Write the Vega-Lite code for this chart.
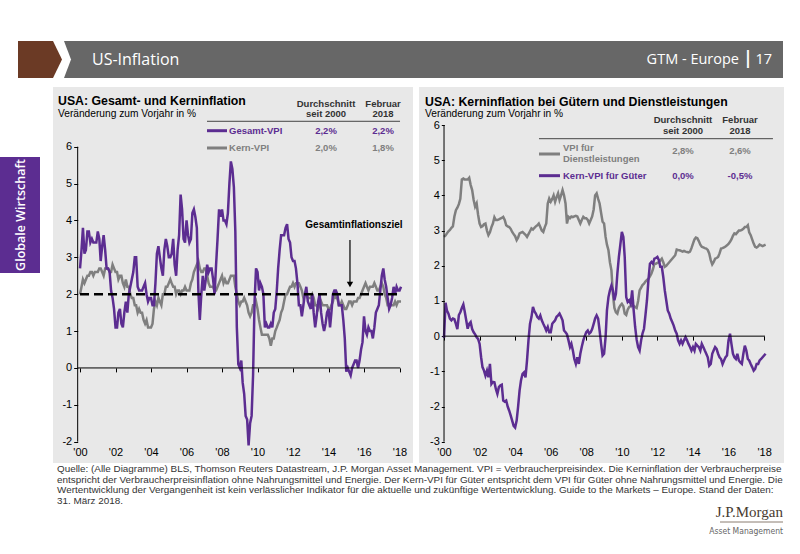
{
"$schema": "https://vega.github.io/schema/vega-lite/v6.json",
"background": "white",
"padding": {"left": 0, "top": 41, "right": 0, "bottom": 0},
"spacing": 9,
"config": {"view": {"stroke": null}, "font": "Liberation Sans", "axis": {"labelFont": "Liberation Sans", "labelFontSize": 11, "labelColor": "#000", "tickColor": "#000", "grid": false, "domain": false, "labelFlush": false, "labelOverlap": false, "title": null}, "axisX": {"labelOverlap": false, "labelSeparation": 0}},
"datasets": {"cpi": [
{"d":"2000-01","h":2.7,"c":2.0,"s":2.82,"g":-0.05},{"d":"2000-02","h":3.2,"c":2.2,"s":2.86,"g":0.95},{"d":"2000-03","h":3.8,"c":2.4,"s":2.92,"g":0.73},{"d":"2000-04","h":3.1,"c":2.3,"s":2.98,"g":0.64},{"d":"2000-05","h":3.2,"c":2.4,"s":3.02,"g":0.5},{"d":"2000-06","h":3.7,"c":2.5,"s":3.08,"g":0.45},{"d":"2000-07","h":3.7,"c":2.5,"s":3.12,"g":0.5},{"d":"2000-08","h":3.4,"c":2.6,"s":3.4,"g":0.48},{"d":"2000-09","h":3.5,"c":2.6,"s":3.58,"g":0.35},{"d":"2000-10","h":3.4,"c":2.5,"s":3.65,"g":0.2},{"d":"2000-11","h":3.4,"c":2.6,"s":3.75,"g":0.6},{"d":"2000-12","h":3.4,"c":2.6,"s":3.9,"g":0.68},
{"d":"2001-01","h":3.7,"c":2.6,"s":4.45,"g":0.8},{"d":"2001-02","h":3.5,"c":2.7,"s":4.48,"g":0.9},{"d":"2001-03","h":2.9,"c":2.7,"s":4.45,"g":0.7},{"d":"2001-04","h":3.3,"c":2.6,"s":4.45,"g":0.45},{"d":"2001-05","h":3.6,"c":2.5,"s":4.45,"g":0.21},{"d":"2001-06","h":3.2,"c":2.7,"s":4.5,"g":0.35},{"d":"2001-07","h":2.7,"c":2.7,"s":4.3,"g":0.4},{"d":"2001-08","h":2.7,"c":2.7,"s":4.15,"g":0.2},{"d":"2001-09","h":2.6,"c":2.6,"s":3.87,"g":0.11},{"d":"2001-10","h":2.1,"c":2.6,"s":3.68,"g":0.05},{"d":"2001-11","h":1.9,"c":2.8,"s":3.77,"g":-0.03},{"d":"2001-12","h":1.6,"c":2.7,"s":3.45,"g":-0.08},
{"d":"2002-01","h":1.1,"c":2.6,"s":3.2,"g":-0.22},{"d":"2002-02","h":1.1,"c":2.6,"s":3.1,"g":-0.6},{"d":"2002-03","h":1.5,"c":2.4,"s":3.12,"g":-0.88},{"d":"2002-04","h":1.6,"c":2.5,"s":3.18,"g":-0.98},{"d":"2002-05","h":1.2,"c":2.5,"s":3.2,"g":-1.12},{"d":"2002-06","h":1.1,"c":2.3,"s":3.0,"g":-0.98},{"d":"2002-07","h":1.5,"c":2.2,"s":2.87,"g":-1.17},{"d":"2002-08","h":1.8,"c":2.4,"s":2.95,"g":-0.79},{"d":"2002-09","h":1.5,"c":2.2,"s":3.1,"g":-1.36},{"d":"2002-10","h":2.0,"c":2.2,"s":3.2,"g":-1.3},{"d":"2002-11","h":2.2,"c":2.0,"s":3.38,"g":-1.31},{"d":"2002-12","h":2.4,"c":1.9,"s":3.3,"g":-1.5},
{"d":"2003-01","h":2.6,"c":1.9,"s":3.3,"g":-1.64},{"d":"2003-02","h":3.0,"c":1.7,"s":3.32,"g":-1.45},{"d":"2003-03","h":3.0,"c":1.7,"s":3.34,"g":-1.4},{"d":"2003-04","h":2.2,"c":1.5,"s":3.36,"g":-1.38},{"d":"2003-05","h":2.1,"c":1.6,"s":3.39,"g":-1.83},{"d":"2003-06","h":2.1,"c":1.5,"s":3.3,"g":-1.86},{"d":"2003-07","h":2.1,"c":1.5,"s":3.15,"g":-1.83},{"d":"2003-08","h":2.2,"c":1.3,"s":3.12,"g":-2.0},{"d":"2003-09","h":2.3,"c":1.2,"s":3.1,"g":-2.12},{"d":"2003-10","h":2.0,"c":1.3,"s":3.05,"g":-2.25},{"d":"2003-11","h":1.8,"c":1.1,"s":2.96,"g":-2.4},{"d":"2003-12","h":1.9,"c":1.1,"s":2.9,"g":-2.55},
{"d":"2004-01","h":1.9,"c":1.1,"s":2.84,"g":-2.6},{"d":"2004-02","h":1.7,"c":1.2,"s":2.73,"g":-2.4},{"d":"2004-03","h":1.7,"c":1.6,"s":2.8,"g":-2.02},{"d":"2004-04","h":2.3,"c":1.8,"s":2.92,"g":-1.55},{"d":"2004-05","h":3.1,"c":1.7,"s":2.94,"g":-1.25},{"d":"2004-06","h":3.3,"c":1.9,"s":2.96,"g":-1.07},{"d":"2004-07","h":3.0,"c":1.8,"s":2.92,"g":-1.03},{"d":"2004-08","h":2.7,"c":1.7,"s":2.88,"g":-1.17},{"d":"2004-09","h":2.5,"c":2.0,"s":2.82,"g":-0.69},{"d":"2004-10","h":3.2,"c":2.0,"s":2.9,"g":-0.12},{"d":"2004-11","h":3.5,"c":2.2,"s":2.98,"g":0.35},{"d":"2004-12","h":3.3,"c":2.2,"s":3.06,"g":0.54},
{"d":"2005-01","h":3.0,"c":2.3,"s":3.03,"g":0.83},{"d":"2005-02","h":3.0,"c":2.4,"s":3.08,"g":0.7},{"d":"2005-03","h":3.1,"c":2.3,"s":3.12,"g":0.64},{"d":"2005-04","h":3.5,"c":2.2,"s":3.15,"g":0.54},{"d":"2005-05","h":2.8,"c":2.2,"s":3.2,"g":0.5},{"d":"2005-06","h":2.5,"c":2.0,"s":3.1,"g":0.59},{"d":"2005-07","h":3.2,"c":2.1,"s":3.0,"g":0.45},{"d":"2005-08","h":3.6,"c":2.1,"s":2.96,"g":0.35},{"d":"2005-09","h":4.7,"c":2.0,"s":3.1,"g":0.26},{"d":"2005-10","h":4.3,"c":2.1,"s":3.2,"g":0.16},{"d":"2005-11","h":3.5,"c":2.1,"s":3.77,"g":0.26},{"d":"2005-12","h":3.4,"c":2.2,"s":3.91,"g":0.11},
{"d":"2006-01","h":4.0,"c":2.1,"s":3.82,"g":0.11},{"d":"2006-02","h":3.6,"c":2.1,"s":3.9,"g":0.35},{"d":"2006-03","h":3.4,"c":2.1,"s":4.0,"g":0.4},{"d":"2006-04","h":3.5,"c":2.3,"s":3.82,"g":0.45},{"d":"2006-05","h":4.2,"c":2.4,"s":3.95,"g":0.55},{"d":"2006-06","h":4.3,"c":2.6,"s":4.06,"g":0.59},{"d":"2006-07","h":4.1,"c":2.7,"s":3.87,"g":0.64},{"d":"2006-08","h":3.8,"c":2.8,"s":4.0,"g":0.55},{"d":"2006-09","h":2.1,"c":2.9,"s":4.15,"g":0.45},{"d":"2006-10","h":1.3,"c":2.7,"s":4.0,"g":0.16},{"d":"2006-11","h":2.0,"c":2.6,"s":3.77,"g":0.11},{"d":"2006-12","h":2.5,"c":2.6,"s":3.2,"g":0.05},
{"d":"2007-01","h":2.1,"c":2.7,"s":3.39,"g":-0.12},{"d":"2007-02","h":2.4,"c":2.7,"s":3.35,"g":-0.31},{"d":"2007-03","h":2.8,"c":2.5,"s":3.4,"g":-0.22},{"d":"2007-04","h":2.6,"c":2.3,"s":3.38,"g":-0.41},{"d":"2007-05","h":2.7,"c":2.2,"s":3.4,"g":-0.65},{"d":"2007-06","h":2.7,"c":2.2,"s":3.42,"g":-0.79},{"d":"2007-07","h":2.4,"c":2.2,"s":3.4,"g":-0.6},{"d":"2007-08","h":2.0,"c":2.1,"s":3.3,"g":-0.79},{"d":"2007-09","h":2.8,"c":2.1,"s":3.2,"g":-0.5},{"d":"2007-10","h":3.5,"c":2.2,"s":3.3,"g":-0.3},{"d":"2007-11","h":4.3,"c":2.3,"s":3.39,"g":-0.12},{"d":"2007-12","h":4.1,"c":2.4,"s":3.35,"g":0.0},
{"d":"2008-01","h":4.3,"c":2.5,"s":3.35,"g":0.11},{"d":"2008-02","h":4.0,"c":2.3,"s":3.3,"g":0.16},{"d":"2008-03","h":4.0,"c":2.4,"s":3.2,"g":0.07},{"d":"2008-04","h":3.9,"c":2.3,"s":3.3,"g":0.11},{"d":"2008-05","h":4.2,"c":2.3,"s":3.4,"g":0.2},{"d":"2008-06","h":5.0,"c":2.4,"s":3.6,"g":0.35},{"d":"2008-07","h":5.6,"c":2.5,"s":4.0,"g":0.5},{"d":"2008-08","h":5.4,"c":2.5,"s":4.06,"g":0.59},{"d":"2008-09","h":4.9,"c":2.5,"s":3.9,"g":0.5},{"d":"2008-10","h":3.7,"c":2.2,"s":3.77,"g":0.16},{"d":"2008-11","h":1.1,"c":2.0,"s":3.5,"g":-0.22},{"d":"2008-12","h":0.1,"c":1.8,"s":3.25,"g":-0.55},
{"d":"2009-01","h":0.0,"c":1.7,"s":3.2,"g":-0.5},{"d":"2009-02","h":0.2,"c":1.8,"s":2.82,"g":-0.03},{"d":"2009-03","h":-0.4,"c":1.8,"s":2.6,"g":0.73},{"d":"2009-04","h":-0.7,"c":1.9,"s":2.44,"g":1.11},{"d":"2009-05","h":-1.3,"c":1.8,"s":2.1,"g":1.3},{"d":"2009-06","h":-1.4,"c":1.7,"s":1.87,"g":1.44},{"d":"2009-07","h":-2.1,"c":1.5,"s":1.2,"g":1.3},{"d":"2009-08","h":-1.5,"c":1.4,"s":0.8,"g":1.02},{"d":"2009-09","h":-1.3,"c":1.5,"s":0.68,"g":1.2},{"d":"2009-10","h":-0.2,"c":1.7,"s":0.64,"g":1.78},{"d":"2009-11","h":1.8,"c":1.7,"s":0.8,"g":2.25},{"d":"2009-12","h":2.7,"c":1.8,"s":0.87,"g":2.6},
{"d":"2010-01","h":2.6,"c":1.6,"s":0.92,"g":2.96},{"d":"2010-02","h":2.1,"c":1.3,"s":0.85,"g":2.82},{"d":"2010-03","h":2.3,"c":1.1,"s":0.64,"g":2.25},{"d":"2010-04","h":2.2,"c":0.9,"s":0.6,"g":1.11},{"d":"2010-05","h":2.0,"c":0.9,"s":0.75,"g":0.97},{"d":"2010-06","h":1.1,"c":0.9,"s":0.83,"g":1.02},{"d":"2010-07","h":1.2,"c":0.9,"s":0.85,"g":0.92},{"d":"2010-08","h":1.1,"c":0.9,"s":0.87,"g":1.3},{"d":"2010-09","h":1.1,"c":0.8,"s":0.86,"g":0.73},{"d":"2010-10","h":1.2,"c":0.6,"s":0.83,"g":0.26},{"d":"2010-11","h":1.1,"c":0.8,"s":0.8,"g":-0.1},{"d":"2010-12","h":1.5,"c":0.8,"s":1.0,"g":-0.31},
{"d":"2011-01","h":1.6,"c":1.0,"s":1.3,"g":-0.41},{"d":"2011-02","h":2.1,"c":1.1,"s":1.38,"g":-0.12},{"d":"2011-03","h":2.7,"c":1.2,"s":1.45,"g":0.07},{"d":"2011-04","h":3.2,"c":1.3,"s":1.49,"g":0.21},{"d":"2011-05","h":3.6,"c":1.5,"s":1.55,"g":0.6},{"d":"2011-06","h":3.6,"c":1.6,"s":1.6,"g":1.02},{"d":"2011-07","h":3.6,"c":1.8,"s":1.63,"g":1.59},{"d":"2011-08","h":3.8,"c":2.0,"s":1.7,"g":2.06},{"d":"2011-09","h":3.9,"c":2.0,"s":1.78,"g":2.11},{"d":"2011-10","h":3.5,"c":2.1,"s":1.9,"g":2.06},{"d":"2011-11","h":3.4,"c":2.2,"s":2.06,"g":2.2},{"d":"2011-12","h":3.0,"c":2.2,"s":2.06,"g":2.22},
{"d":"2012-01","h":2.9,"c":2.3,"s":2.08,"g":2.25},{"d":"2012-02","h":2.9,"c":2.2,"s":2.1,"g":2.16},{"d":"2012-03","h":2.7,"c":2.3,"s":2.15,"g":1.97},{"d":"2012-04","h":2.3,"c":2.3,"s":2.2,"g":1.97},{"d":"2012-05","h":1.7,"c":2.3,"s":2.1,"g":1.68},{"d":"2012-06","h":1.7,"c":2.2,"s":1.97,"g":1.3},{"d":"2012-07","h":1.4,"c":2.1,"s":2.0,"g":1.02},{"d":"2012-08","h":1.7,"c":1.9,"s":2.05,"g":0.73},{"d":"2012-09","h":2.0,"c":2.0,"s":2.1,"g":0.64},{"d":"2012-10","h":2.2,"c":2.0,"s":2.15,"g":0.5},{"d":"2012-11","h":1.8,"c":1.9,"s":2.2,"g":0.4},{"d":"2012-12","h":1.7,"c":1.9,"s":2.25,"g":0.3},
{"d":"2013-01","h":1.6,"c":1.9,"s":2.3,"g":0.16},{"d":"2013-02","h":2.0,"c":2.0,"s":2.46,"g":0.07},{"d":"2013-03","h":1.5,"c":1.9,"s":2.45,"g":-0.12},{"d":"2013-04","h":1.1,"c":1.7,"s":2.44,"g":-0.22},{"d":"2013-05","h":1.4,"c":1.7,"s":2.42,"g":-0.12},{"d":"2013-06","h":1.8,"c":1.6,"s":2.4,"g":-0.22},{"d":"2013-07","h":2.0,"c":1.7,"s":2.42,"g":-0.12},{"d":"2013-08","h":1.5,"c":1.8,"s":2.4,"g":-0.03},{"d":"2013-09","h":1.2,"c":1.7,"s":2.39,"g":-0.12},{"d":"2013-10","h":1.0,"c":1.7,"s":2.38,"g":-0.22},{"d":"2013-11","h":1.2,"c":1.7,"s":2.4,"g":-0.31},{"d":"2013-12","h":1.5,"c":1.7,"s":2.5,"g":-0.41},
{"d":"2014-01","h":1.6,"c":1.6,"s":2.63,"g":-0.31},{"d":"2014-02","h":1.1,"c":1.6,"s":2.75,"g":-0.41},{"d":"2014-03","h":1.5,"c":1.7,"s":2.8,"g":-0.22},{"d":"2014-04","h":2.0,"c":1.8,"s":2.78,"g":-0.27},{"d":"2014-05","h":2.1,"c":2.0,"s":2.7,"g":-0.31},{"d":"2014-06","h":2.1,"c":1.9,"s":2.6,"g":-0.41},{"d":"2014-07","h":2.0,"c":1.9,"s":2.54,"g":-0.22},{"d":"2014-08","h":1.7,"c":1.7,"s":2.52,"g":-0.31},{"d":"2014-09","h":1.7,"c":1.7,"s":2.5,"g":-0.41},{"d":"2014-10","h":1.7,"c":1.8,"s":2.49,"g":-0.5},{"d":"2014-11","h":1.3,"c":1.7,"s":2.45,"g":-0.6},{"d":"2014-12","h":0.8,"c":1.6,"s":2.35,"g":-0.84},
{"d":"2015-01","h":-0.1,"c":1.6,"s":2.16,"g":-0.79},{"d":"2015-02","h":0.0,"c":1.7,"s":2.04,"g":-0.5},{"d":"2015-03","h":-0.1,"c":1.8,"s":2.1,"g":-0.41},{"d":"2015-04","h":-0.2,"c":1.8,"s":2.2,"g":-0.31},{"d":"2015-05","h":0.0,"c":1.7,"s":2.22,"g":-0.36},{"d":"2015-06","h":0.1,"c":1.8,"s":2.25,"g":-0.5},{"d":"2015-07","h":0.2,"c":1.8,"s":2.35,"g":-0.6},{"d":"2015-08","h":0.2,"c":1.8,"s":2.49,"g":-0.65},{"d":"2015-09","h":0.0,"c":1.9,"s":2.5,"g":-0.79},{"d":"2015-10","h":0.2,"c":1.9,"s":2.52,"g":-0.69},{"d":"2015-11","h":0.5,"c":2.0,"s":2.55,"g":-0.6},{"d":"2015-12","h":0.7,"c":2.1,"s":2.58,"g":-0.55},
{"d":"2016-01","h":1.4,"c":2.2,"s":2.62,"g":-0.12},{"d":"2016-02","h":1.0,"c":2.3,"s":2.68,"g":0.07},{"d":"2016-03","h":0.9,"c":2.2,"s":2.75,"g":-0.22},{"d":"2016-04","h":1.1,"c":2.1,"s":2.85,"g":-0.5},{"d":"2016-05","h":1.0,"c":2.2,"s":2.92,"g":-0.6},{"d":"2016-06","h":1.0,"c":2.2,"s":2.9,"g":-0.65},{"d":"2016-07","h":0.8,"c":2.2,"s":2.95,"g":-0.5},{"d":"2016-08","h":1.1,"c":2.3,"s":3.0,"g":-0.69},{"d":"2016-09","h":1.5,"c":2.2,"s":3.0,"g":-0.75},{"d":"2016-10","h":1.6,"c":2.1,"s":3.02,"g":-0.79},{"d":"2016-11","h":1.7,"c":2.1,"s":3.05,"g":-0.5},{"d":"2016-12","h":2.1,"c":2.2,"s":3.1,"g":-0.27},
{"d":"2017-01","h":2.5,"c":2.3,"s":3.1,"g":-0.41},{"d":"2017-02","h":2.7,"c":2.2,"s":3.15,"g":-0.65},{"d":"2017-03","h":2.4,"c":2.0,"s":2.95,"g":-0.69},{"d":"2017-04","h":2.2,"c":1.9,"s":2.87,"g":-0.79},{"d":"2017-05","h":1.9,"c":1.7,"s":2.75,"g":-0.88},{"d":"2017-06","h":1.6,"c":1.7,"s":2.63,"g":-0.98},{"d":"2017-07","h":1.7,"c":1.7,"s":2.54,"g":-0.93},{"d":"2017-08","h":1.9,"c":1.7,"s":2.52,"g":-0.79},{"d":"2017-09","h":2.2,"c":1.7,"s":2.55,"g":-0.79},{"d":"2017-10","h":2.0,"c":1.8,"s":2.6,"g":-0.69},{"d":"2017-11","h":2.2,"c":1.7,"s":2.58,"g":-0.65},{"d":"2017-12","h":2.1,"c":1.8,"s":2.56,"g":-0.6},
{"d":"2018-01","h":2.1,"c":1.8,"s":2.58,"g":-0.55},{"d":"2018-02","h":2.2,"c":1.8,"s":2.6,"g":-0.5}
]},
"vconcat": [
{"hconcat": [
  {"width": 18, "height": 37, "data": {"values": [{}]}, "mark": {"type": "text", "text": ""}},
  {"width": 35, "height": 37, "view": {"fill": "#6b3a25", "stroke": null}, "data": {"values": [{}]}, "mark": {"type": "text", "text": ""}},
  {"width": 730, "height": 37, "view": {"fill": "#676767", "stroke": null}, "data": {"values": [{}]},
   "layer": [
    {"mark": {"type": "point", "shape": "M0,-1L0.5946,-1L0.973,0L0.5946,1L0,1Z", "size": 1369, "filled": true, "color": "white", "opacity": 1, "strokeWidth": 0}, "encoding": {"x": {"value": 0}, "y": {"value": 18.5}}},
    {"mark": {"type": "point", "shape": "M0,-1L0.4865,0L0,1Z", "size": 1369, "filled": true, "color": "#6b3a25", "opacity": 1, "strokeWidth": 0}, "encoding": {"x": {"value": 0}, "y": {"value": 18.5}}},
    {"mark": {"type": "text", "text": "US-Inflation", "font": "Open Sans", "fontSize": 16, "color": "white", "align": "left", "baseline": "middle"}, "encoding": {"x": {"value": 39}, "y": {"value": 19}}},
    {"mark": {"type": "text", "text": "GTM - Europe", "font": "Open Sans", "fontSize": 14.5, "color": "white", "align": "right", "baseline": "middle"}, "encoding": {"x": {"value": 686}, "y": {"value": 19}}},
    {"mark": {"type": "text", "text": "|", "font": "Open Sans", "fontSize": 17, "fontWeight": "bold", "color": "white", "align": "center", "baseline": "middle"}, "encoding": {"x": {"value": 695}, "y": {"value": 18}}},
    {"mark": {"type": "text", "text": "17", "font": "Open Sans", "fontSize": 14.5, "color": "white", "align": "right", "baseline": "middle"}, "encoding": {"x": {"value": 719}, "y": {"value": 19}}}
   ]}
 ], "spacing": 0},
{"vconcat": [
 {"hconcat": [
  {"vconcat": [
    {"width": 40, "height": 70, "data": {"values": [{}]}, "mark": {"type": "text", "text": ""}},
    {"width": 40, "height": 116, "view": {"fill": "#5c2d91", "stroke": null}, "data": {"values": [{}]},
     "mark": {"type": "text", "text": "Globale Wirtschaft", "angle": 270, "font": "Open Sans", "fontSize": 12.5, "fontWeight": 600, "color": "white", "align": "center", "baseline": "middle"},
     "encoding": {"x": {"value": 21}, "y": {"value": 58}}}
   ], "spacing": 0},
  {"hconcat": [
   {"width": 360, "height": 376,
    "view": {"fill": "#e8e8e8", "stroke": null},
    "title": {"text": "USA: Gesamt- und Kerninflation", "subtitle": "Veränderung zum Vorjahr in %", "anchor": "start", "frame": "group", "orient": "top", "offset": -32, "dx": 5, "font": "Liberation Sans", "fontSize": 12.3, "fontWeight": "bold", "color": "#000", "subtitleFont": "Liberation Sans", "subtitleFontSize": 10.2, "subtitleColor": "#000", "subtitlePadding": 2},
    "layer": [
     {"data": {"name": "cpi"}, "mark": {"type": "line", "color": "#7f7f7f", "strokeWidth": 2.5},
      "encoding": {
       "x": {"field": "d", "type": "temporal", "scale": {"domain": [{"year": 1998, "month": 6, "date": 24}, {"year": 2018, "month": 10, "date": 5}], "nice": false},
         "axis": {"title": null, "orient": "bottom", "offset": -95.1, "tickCount": {"interval": "year", "step": 2}, "format": "'%y", "tickSize": 4, "labelPadding": 74.4, "labelOverlap": false, "labelSeparation": 0, "labelFlush": false, "labelBound": false}},
       "y": {"field": "c", "type": "quantitative", "scale": {"domain": [-2.578, 7.619], "nice": false, "zero": false}, "axis": {"title": null, "orient": "left", "offset": -24.7, "values": [-2, -1, 0, 1, 2, 3, 4, 5, 6], "tickSize": 4, "labelPadding": 2, "labelOverlap": false, "labelExpr": "replace(datum.label, '\u2212', '-')"}}}},
     {"data": {"name": "cpi"}, "mark": {"type": "line", "color": "#5c2d91", "strokeWidth": 2.5},
      "encoding": {
       "x": {"field": "d", "type": "temporal", "axis": {"title": null, "orient": "bottom", "offset": -95.1, "tickCount": {"interval": "year", "step": 2}, "format": "'%y", "tickSize": 4, "labelPadding": 74.4, "labelOverlap": false, "labelSeparation": 0, "labelFlush": false, "labelBound": false}},
       "y": {"field": "h", "type": "quantitative"}}},
     {"data": {"values": [{}]}, "mark": {"type": "rule", "color": "#000", "strokeWidth": 1}, "encoding": {"x": {"datum": {"year": 1999, "month": 11, "date": 14}, "type": "temporal"}, "y": {"datum": -2, "type": "quantitative"}, "y2": {"datum": 6}}},
     {"data": {"values": [{}]}, "mark": {"type": "rule", "color": "#000", "strokeWidth": 1}, "encoding": {"x": {"datum": {"year": 1999, "month": 11, "date": 14}, "type": "temporal"}, "x2": {"datum": {"year": 2018, "month": 1, "date": 15}}, "y": {"datum": 0, "type": "quantitative"}}},
     {"data": {"values": [{}]}, "mark": {"type": "rule", "color": "#000", "strokeWidth": 2.5, "strokeDash": [9, 5]}, "encoding": {"x": {"datum": {"year": 2000, "month": 1, "date": 1}, "type": "temporal"}, "x2": {"datum": {"year": 2018, "month": 2, "date": 15}}, "y": {"datum": 2, "type": "quantitative"}}},
     {"data": {"values": [{}]}, "mark": {"type": "text", "text": "Gesamtinflationsziel", "fontSize": 10, "fontWeight": "bold", "color": "#000", "align": "center", "baseline": "middle"}, "encoding": {"x": {"datum": {"year": 2015, "month": 6, "date": 8}, "type": "temporal"}, "y": {"datum": 3.877, "type": "quantitative"}}},
     {"data": {"values": [{}]}, "mark": {"type": "rule", "color": "#000", "strokeWidth": 1.2}, "encoding": {"x": {"datum": {"year": 2015, "month": 3, "date": 18}, "type": "temporal"}, "y": {"datum": 3.47, "type": "quantitative"}, "y2": {"datum": 2.3}}},
     {"data": {"values": [{}]}, "mark": {"type": "point", "shape": "triangle-down", "filled": true, "size": 40, "color": "#000", "opacity": 1}, "encoding": {"x": {"datum": {"year": 2015, "month": 3, "date": 18}, "type": "temporal"}, "y": {"datum": 2.26, "type": "quantitative"}}},
     {"data": {"values": [{}]}, "mark": {"type": "text", "text": "Durchschnitt", "fontSize": 9.5, "fontWeight": "bold", "color": "#333", "align": "center", "baseline": "middle"}, "encoding": {"x": {"datum": {"year": 2013, "month": 11, "date": 10}, "type": "temporal"}, "y": {"datum": 7.158, "type": "quantitative"}}},
     {"data": {"values": [{}]}, "mark": {"type": "text", "text": "seit 2000", "fontSize": 9.5, "fontWeight": "bold", "color": "#333", "align": "center", "baseline": "middle"}, "encoding": {"x": {"datum": {"year": 2013, "month": 11, "date": 10}, "type": "temporal"}, "y": {"datum": 6.887, "type": "quantitative"}}},
     {"data": {"values": [{}]}, "mark": {"type": "text", "text": "Februar", "fontSize": 9.5, "fontWeight": "bold", "color": "#333", "align": "center", "baseline": "middle"}, "encoding": {"x": {"datum": {"year": 2017, "month": 1, "date": 26}, "type": "temporal"}, "y": {"datum": 7.158, "type": "quantitative"}}},
     {"data": {"values": [{}]}, "mark": {"type": "text", "text": "2018", "fontSize": 9.5, "fontWeight": "bold", "color": "#333", "align": "center", "baseline": "middle"}, "encoding": {"x": {"datum": {"year": 2017, "month": 1, "date": 26}, "type": "temporal"}, "y": {"datum": 6.887, "type": "quantitative"}}},
     {"data": {"values": [{}]}, "mark": {"type": "rule", "color": "#444", "strokeWidth": 1}, "encoding": {"x": {"datum": {"year": 2007, "month": 2, "date": 26}, "type": "temporal"}, "x2": {"datum": {"year": 2018, "month": 1, "date": 11}}, "y": {"datum": 6.689, "type": "quantitative"}}},
     {"data": {"values": [{}]}, "mark": {"type": "rule", "color": "#5c2d91", "strokeWidth": 3}, "encoding": {"x": {"datum": {"year": 2007, "month": 2, "date": 26}, "type": "temporal"}, "x2": {"datum": {"year": 2008, "month": 4, "date": 13}}, "y": {"datum": 6.434, "type": "quantitative"}}},
     {"data": {"values": [{}]}, "mark": {"type": "rule", "color": "#7f7f7f", "strokeWidth": 3}, "encoding": {"x": {"datum": {"year": 2007, "month": 2, "date": 26}, "type": "temporal"}, "x2": {"datum": {"year": 2008, "month": 4, "date": 13}}, "y": {"datum": 5.965, "type": "quantitative"}}},
     {"data": {"values": [{}]}, "mark": {"type": "text", "text": "Gesamt-VPI", "fontSize": 9.5, "fontWeight": "bold", "color": "#5c2d91", "align": "left", "baseline": "middle"}, "encoding": {"x": {"datum": {"year": 2008, "month": 5, "date": 24}, "type": "temporal"}, "y": {"datum": 6.434, "type": "quantitative"}}},
     {"data": {"values": [{}]}, "mark": {"type": "text", "text": "Kern-VPI", "fontSize": 9.5, "fontWeight": "bold", "color": "#7f7f7f", "align": "left", "baseline": "middle"}, "encoding": {"x": {"datum": {"year": 2008, "month": 5, "date": 24}, "type": "temporal"}, "y": {"datum": 5.965, "type": "quantitative"}}},
     {"data": {"values": [{}]}, "mark": {"type": "text", "text": "2,2%", "fontSize": 9.5, "fontWeight": "bold", "color": "#5c2d91", "align": "center", "baseline": "middle"}, "encoding": {"x": {"datum": {"year": 2013, "month": 11, "date": 10}, "type": "temporal"}, "y": {"datum": 6.434, "type": "quantitative"}}},
     {"data": {"values": [{}]}, "mark": {"type": "text", "text": "2,2%", "fontSize": 9.5, "fontWeight": "bold", "color": "#5c2d91", "align": "center", "baseline": "middle"}, "encoding": {"x": {"datum": {"year": 2017, "month": 1, "date": 26}, "type": "temporal"}, "y": {"datum": 6.434, "type": "quantitative"}}},
     {"data": {"values": [{}]}, "mark": {"type": "text", "text": "2,0%", "fontSize": 9.5, "fontWeight": "bold", "color": "#7f7f7f", "align": "center", "baseline": "middle"}, "encoding": {"x": {"datum": {"year": 2013, "month": 11, "date": 10}, "type": "temporal"}, "y": {"datum": 5.965, "type": "quantitative"}}},
     {"data": {"values": [{}]}, "mark": {"type": "text", "text": "1,8%", "fontSize": 9.5, "fontWeight": "bold", "color": "#7f7f7f", "align": "center", "baseline": "middle"}, "encoding": {"x": {"datum": {"year": 2017, "month": 1, "date": 26}, "type": "temporal"}, "y": {"datum": 5.965, "type": "quantitative"}}}
    ]},
   {"width": 365, "height": 376,
    "view": {"fill": "#e8e8e8", "stroke": null},
    "title": {"text": "USA: Kerninflation bei Gütern und Dienstleistungen", "subtitle": "Veränderung zum Vorjahr in %", "anchor": "start", "frame": "group", "orient": "top", "offset": -32, "dx": 6, "font": "Liberation Sans", "fontSize": 12.3, "fontWeight": "bold", "color": "#000", "subtitleFont": "Liberation Sans", "subtitleFontSize": 10.2, "subtitleColor": "#000", "subtitlePadding": 1},
    "layer": [
     {"data": {"name": "cpi"}, "mark": {"type": "line", "color": "#7f7f7f", "strokeWidth": 2.5},
      "encoding": {
       "x": {"field": "d", "type": "temporal", "scale": {"domain": [{"year": 1998, "month": 8, "date": 5}, {"year": 2019, "month": 2, "date": 14}], "nice": false},
         "axis": {"title": null, "orient": "bottom", "offset": -126.9, "values": [{"year": 2000}, {"year": 2002}, {"year": 2004}, {"year": 2006}, {"year": 2008}, {"year": 2010}, {"year": 2012}, {"year": 2014}, {"year": 2016}, {"year": 2018}], "format": "'%y", "tickSize": 4, "labelPadding": 106.2, "labelOverlap": false, "labelFlush": false, "labelBound": false}},
       "y": {"field": "s", "type": "quantitative", "scale": {"domain": [-3.605, 7.08], "nice": false, "zero": false}, "axis": {"title": null, "orient": "left", "offset": -25.3, "values": [-3, -2, -1, 0, 1, 2, 3, 4, 5, 6], "tickSize": 3, "labelPadding": 2, "labelOverlap": false, "labelExpr": "replace(datum.label, '\u2212', '-')"}}}},
     {"data": {"name": "cpi"}, "mark": {"type": "line", "color": "#5c2d91", "strokeWidth": 2.5},
      "encoding": {
       "x": {"field": "d", "type": "temporal"},
       "y": {"field": "g", "type": "quantitative"}}},
     {"data": {"values": [{}]}, "mark": {"type": "rule", "color": "#000", "strokeWidth": 1}, "encoding": {"x": {"datum": {"year": 2000, "month": 1, "date": 1}, "type": "temporal"}, "y": {"datum": -3, "type": "quantitative"}, "y2": {"datum": 6}}},
     {"data": {"values": [{}]}, "mark": {"type": "rule", "color": "#000", "strokeWidth": 1}, "encoding": {"x": {"datum": {"year": 2000, "month": 1, "date": 1}, "type": "temporal"}, "x2": {"datum": {"year": 2018, "month": 1, "date": 20}}, "y": {"datum": 0, "type": "quantitative"}}},
     {"data": {"values": [{}]}, "mark": {"type": "text", "text": "Durchschnitt", "fontSize": 9.5, "fontWeight": "bold", "color": "#333", "align": "center", "baseline": "middle"}, "encoding": {"x": {"datum": {"year": 2013, "month": 6, "date": 10}, "type": "temporal"}, "y": {"datum": 6.142, "type": "quantitative"}}},
     {"data": {"values": [{}]}, "mark": {"type": "text", "text": "seit 2000", "fontSize": 9.5, "fontWeight": "bold", "color": "#333", "align": "center", "baseline": "middle"}, "encoding": {"x": {"datum": {"year": 2013, "month": 6, "date": 10}, "type": "temporal"}, "y": {"datum": 5.83, "type": "quantitative"}}},
     {"data": {"values": [{}]}, "mark": {"type": "text", "text": "Februar", "fontSize": 9.5, "fontWeight": "bold", "color": "#333", "align": "center", "baseline": "middle"}, "encoding": {"x": {"datum": {"year": 2016, "month": 8, "date": 24}, "type": "temporal"}, "y": {"datum": 6.142, "type": "quantitative"}}},
     {"data": {"values": [{}]}, "mark": {"type": "text", "text": "2018", "fontSize": 9.5, "fontWeight": "bold", "color": "#333", "align": "center", "baseline": "middle"}, "encoding": {"x": {"datum": {"year": 2016, "month": 8, "date": 24}, "type": "temporal"}, "y": {"datum": 5.83, "type": "quantitative"}}},
     {"data": {"values": [{}]}, "mark": {"type": "rule", "color": "#444", "strokeWidth": 1}, "encoding": {"x": {"datum": {"year": 2005, "month": 5, "date": 5}, "type": "temporal"}, "x2": {"datum": {"year": 2018, "month": 7, "date": 2}}, "y": {"datum": 5.611, "type": "quantitative"}}},
     {"data": {"values": [{}]}, "mark": {"type": "rule", "color": "#7f7f7f", "strokeWidth": 3}, "encoding": {"x": {"datum": {"year": 2005, "month": 5, "date": 5}, "type": "temporal"}, "x2": {"datum": {"year": 2006, "month": 7, "date": 10}}, "y": {"datum": 5.176, "type": "quantitative"}}},
     {"data": {"values": [{}]}, "mark": {"type": "rule", "color": "#5c2d91", "strokeWidth": 3}, "encoding": {"x": {"datum": {"year": 2005, "month": 5, "date": 5}, "type": "temporal"}, "x2": {"datum": {"year": 2006, "month": 7, "date": 10}}, "y": {"datum": 4.56, "type": "quantitative"}}},
     {"data": {"values": [{}]}, "mark": {"type": "text", "text": "VPI für", "fontSize": 9.5, "fontWeight": "bold", "color": "#7f7f7f", "align": "left", "baseline": "middle"}, "encoding": {"x": {"datum": {"year": 2006, "month": 9, "date": 10}, "type": "temporal"}, "y": {"datum": 5.347, "type": "quantitative"}}},
     {"data": {"values": [{}]}, "mark": {"type": "text", "text": "Dienstleistungen", "fontSize": 9.5, "fontWeight": "bold", "color": "#7f7f7f", "align": "left", "baseline": "middle"}, "encoding": {"x": {"datum": {"year": 2006, "month": 9, "date": 10}, "type": "temporal"}, "y": {"datum": 5.043, "type": "quantitative"}}},
     {"data": {"values": [{}]}, "mark": {"type": "text", "text": "Kern-VPI für Güter", "fontSize": 9.5, "fontWeight": "bold", "color": "#5c2d91", "align": "left", "baseline": "middle"}, "encoding": {"x": {"datum": {"year": 2006, "month": 9, "date": 10}, "type": "temporal"}, "y": {"datum": 4.56, "type": "quantitative"}}},
     {"data": {"values": [{}]}, "mark": {"type": "text", "text": "2,8%", "fontSize": 9.5, "fontWeight": "bold", "color": "#7f7f7f", "align": "center", "baseline": "middle"}, "encoding": {"x": {"datum": {"year": 2013, "month": 6, "date": 10}, "type": "temporal"}, "y": {"datum": 5.261, "type": "quantitative"}}},
     {"data": {"values": [{}]}, "mark": {"type": "text", "text": "2,6%", "fontSize": 9.5, "fontWeight": "bold", "color": "#7f7f7f", "align": "center", "baseline": "middle"}, "encoding": {"x": {"datum": {"year": 2016, "month": 8, "date": 24}, "type": "temporal"}, "y": {"datum": 5.261, "type": "quantitative"}}},
     {"data": {"values": [{}]}, "mark": {"type": "text", "text": "0,0%", "fontSize": 9.5, "fontWeight": "bold", "color": "#5c2d91", "align": "center", "baseline": "middle"}, "encoding": {"x": {"datum": {"year": 2013, "month": 6, "date": 10}, "type": "temporal"}, "y": {"datum": 4.56, "type": "quantitative"}}},
     {"data": {"values": [{}]}, "mark": {"type": "text", "text": "-0,5%", "fontSize": 9.5, "fontWeight": "bold", "color": "#5c2d91", "align": "center", "baseline": "middle"}, "encoding": {"x": {"datum": {"year": 2016, "month": 8, "date": 24}, "type": "temporal"}, "y": {"datum": 4.56, "type": "quantitative"}}}
    ]}
  ], "spacing": 6}
 ], "spacing": 13},
 {"width": 784, "height": 91, "data": {"values": [{}]},
  "layer": [
   {"mark": {"type": "text", "text": ["Quelle: (Alle Diagramme) BLS, Thomson Reuters Datastream, J.P. Morgan Asset Management. VPI = Verbraucherpreisindex. Die Kerninflation der Verbraucherpreise", "entspricht der Verbraucherpreisinflation ohne Nahrungsmittel und Energie. Der Kern-VPI für Güter entspricht dem VPI für Güter ohne Nahrungsmittel und Energie. Die", "Wertentwicklung der Vergangenheit ist kein verlässlicher Indikator für die aktuelle und zukünftige Wertentwicklung. Guide to the Markets – Europe. Stand der Daten:", "31. März 2018."], "fontSize": 9.9, "lineHeight": 10.5, "color": "#333", "align": "left", "baseline": "top"}, "encoding": {"x": {"value": 57}, "y": {"value": 1}}},
   {"mark": {"type": "text", "text": "J.P.Morgan", "font": "Liberation Serif", "fontSize": 15, "color": "#4a3b30", "align": "right", "baseline": "alphabetic"}, "encoding": {"x": {"value": 783}, "y": {"value": 54}}},
   {"mark": {"type": "rule", "color": "#8a7d70", "strokeWidth": 1}, "encoding": {"x": {"value": 720}, "x2": {"value": 783}, "y": {"value": 59}}},
   {"mark": {"type": "text", "text": "Asset Management", "font": "Liberation Sans Narrow, DejaVu Sans Condensed, Liberation Sans", "fontSize": 8.5, "color": "#666", "align": "right", "baseline": "alphabetic"}, "encoding": {"x": {"value": 783}, "y": {"value": 71}}}
  ]}
], "spacing": 0}
]
}
